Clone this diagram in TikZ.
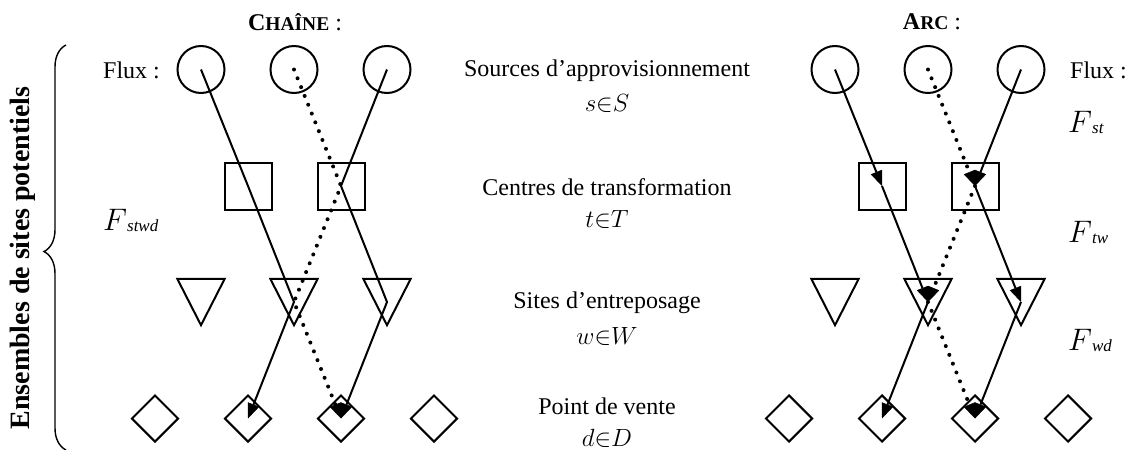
\documentclass[tikz,border=0pt]{standalone}
\usepackage{fontspec}
\usepackage{graphicx}
\setmainfont{Liberation Serif}
\usetikzlibrary{arrows.meta,shapes.geometric,decorations.pathreplacing}

% flow variable: large italic F with a small italic index
\newcommand{\flowvar}[1]{\scalebox{1.25}{$F$}\raisebox{-1pt}{\fontsize{17}{17}\selectfont\itshape #1}}

\begin{document}
\begin{tikzpicture}[x=1pt,y=-1pt,
  every node/.style={font=\fontsize{24}{28}\selectfont, inner sep=0pt},
  ln/.style={line width=2pt},
  src/.style={circle, draw, ln, minimum size=47pt},
  plant/.style={rectangle, draw, ln, minimum size=47pt},
  whs/.style={rectangle, minimum width=47pt, minimum height=46pt},
  shop/.style={diamond, draw, ln, minimum width=47pt, minimum height=47pt},
  tip/.style={-{Triangle[length=15pt,width=12pt,line width=0.4pt]}},
  flow/.style={ln, tip},
  dotflow/.style={line width=4pt, line cap=round, dash pattern=on 0pt off 9.5pt, tip},
  caption/.style={anchor=center},
  fluxlab/.style={anchor=base west}
]
\useasboundingbox (0,0) rectangle (1128,450);

% ---- titles ----
\node (tchain) at (295,22) {\textbf{C{\fontsize{19.5}{22}\selectfont HAÎNE}} :};
\node (tarc) at (932,22) {\textbf{A{\fontsize{19.5}{22}\selectfont RC}} :};

% ---- left panel: CHAÎNE ----
\foreach \n/\x in {1/201,2/294,3/387} {
  \node[src] (ls\n) at (\x,69.5) {};
  \node[whs] (lw\n) at (\x,302) {};
  \draw[ln, line join=miter] (lw\n.north west) -- (lw\n.north east) -- (lw\n.south) -- cycle;
}
\node[plant] (lp1) at (248,186) {};
\node[plant] (lp2) at (341,186) {};
\foreach \n/\x in {1/155,2/248,3/341,4/434}
  \node[shop] (ld\n) at (\x,418.5) {};

\draw[flow] (ls1.center) -- (lp1.center) -- (lw2.center) -- (ld2.center);
\draw[flow] (ls3.center) -- (lp2.center) -- (lw3.center) -- (ld3.center);
\draw[dotflow] (ls2.center) -- (lp2.center) -- (lw2.center) -- (ld3.center);

% ---- right panel: ARC ----
\foreach \n/\x in {1/835,2/928,3/1021} {
  \node[src] (rs\n) at (\x,69.5) {};
  \node[whs] (rw\n) at (\x,302) {};
  \draw[ln, line join=miter] (rw\n.north west) -- (rw\n.north east) -- (rw\n.south) -- cycle;
}
\node[plant] (rp1) at (882,186) {};
\node[plant] (rp2) at (975,186) {};
\foreach \n/\x in {1/789,2/882,3/975,4/1068}
  \node[shop] (rd\n) at (\x,418.5) {};

\draw[flow] (rs1.center) -- (rp1.center);
\draw[flow] (rp1.center) -- (rw2.center);
\draw[flow] (rw2.center) -- (rd2.center);
\draw[flow] (rs3.center) -- (rp2.center);
\draw[flow] (rp2.center) -- (rw3.center);
\draw[flow] (rw3.center) -- (rd3.center);
\draw[dotflow] (rs2.center) -- (rp2.center);
\draw[dotflow] (rp2.center) -- (rw2.center);
\draw[dotflow] (rw2.center) -- (rd3.center);

% ---- level captions ----
\node[caption] (c1) at (607,71) {Sources d’approvisionnement};
\node[caption] (c1m) at (607,103) {$s{\in}S$};
\node[caption] (c2) at (607,187) {Centres de transformation};
\node[caption] (c2m) at (607,219) {$t{\in}T$};
\node[caption] (c3) at (607,303) {Sites d’entreposage};
\node[caption] (c3m) at (607,336) {$w{\in}W$};
\node[caption] (c4) at (607,406) {Point de vente};
\node[caption] (c4m) at (607,438) {$d{\in}D$};

% ---- flow labels ----
\node[anchor=west] (lflux) at (103,70) {Flux :};
\node[anchor=west] (rflux) at (1070,70) {Flux :};
\node[fluxlab] (fstwd) at (103,230) {\flowvar{stwd}};
\node[fluxlab] (fst) at (1068,132) {\flowvar{st}};
\node[fluxlab] (ftw) at (1068,242) {\flowvar{tw}};
\node[fluxlab] (fwd) at (1068,350) {\flowvar{wd}};

% ---- brace and side title ----
\draw[line width=1.4pt, decorate, decoration={brace, amplitude=22pt, aspect=0.49}]
  (66,450) -- (66,45);
\node[rotate=90, font=\fontsize{28}{32}\selectfont\bfseries] (side) at (23,258) {Ensembles de sites potentiels};
\end{tikzpicture}
\end{document}
